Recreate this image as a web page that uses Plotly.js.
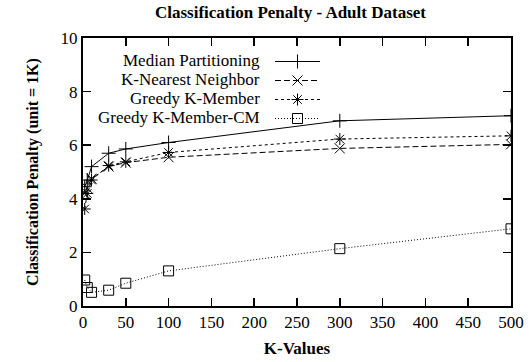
<!DOCTYPE html>
<html>
<head>
<meta charset="utf-8">
<script src="https://cdn.plot.ly/plotly-3.0.1.min.js"></script>
<style>html,body{margin:0;padding:0;background:#fff;}#chart{width:531px;height:362px;}</style>
</head>
<body>
<div id="chart"></div>
<script>
const kValues = [2, 5, 10, 30, 50, 100, 300, 500];
const seriesNames = ["Median Partitioning", "K-Nearest Neighbor", "Greedy K-Member", "Greedy K-Member-CM"];
const medianPartitioning = [4.45, 4.7, 5.2, 5.7, 5.86, 6.1, 6.91, 7.1];
const kNearestNeighbor = [4.2, 4.4, 4.75, 5.2, 5.35, 5.55, 5.88, 6.03];
const greedyKMember = [3.62, 4.2, 4.7, 5.24, 5.38, 5.73, 6.23, 6.35];
const greedyKMemberCM = [0.97, 0.69, 0.51, 0.59, 0.85, 1.31, 2.14, 2.88];
const xTicks = [0, 50, 100, 150, 200, 250, 300, 350, 400, 450, 500];
const yTicks = [0, 2, 4, 6, 8, 10];

const serif = "Liberation Serif";
const styles = [
  {dash: "solid", symbol: "cross-thin-open"},
  {dash: "6px,3px", symbol: "x-thin-open"},
  {dash: "3px,3px", symbol: "asterisk-open"},
  {dash: "1px,2px", symbol: "square-open"}
];
const allY = [medianPartitioning, kNearestNeighbor, greedyKMember, greedyKMemberCM];

const traces = allY.map((ys, i) => ({
  x: kValues,
  y: ys,
  type: "scatter",
  mode: "lines+markers",
  name: "",
  hovertext: seriesNames[i],
  line: {color: "#000", width: 1, dash: styles[i].dash},
  marker: {symbol: styles[i].symbol, size: 10, color: "#000", line: {color: "#000", width: 1}}
}));

const H = 362, T = 38, B = 56, plotH = H - T - B;
const legendTop = 47, rowH = 19;
const annotations = seriesNames.map((n, i) => ({
  text: n,
  xref: "paper", yref: "paper",
  x: (262 - 83) / 428, y: (H - B - (legendTop + 13 + rowH * i)) / plotH,
  xanchor: "right", yanchor: "middle",
  showarrow: false,
  font: {family: serif, size: 17, color: "#000"}
}));

const layout = {
  width: 531, height: 362,
  margin: {l: 83, r: 20, t: 38, b: 56},
  paper_bgcolor: "#fff", plot_bgcolor: "#fff",
  font: {family: serif, color: "#000"},
  title: {text: "<b>Classification Penalty - Adult Dataset</b>", font: {family: serif, size: 17, color: "#000"}, x: 0.547, xanchor: "center", y: 0.967, yanchor: "middle", yref: "container"},
  showlegend: true,
  legend: {x: (270 - 83) / 428, y: (H - B - legendTop) / plotH, xanchor: "left", yanchor: "top", bgcolor: "rgba(0,0,0,0)", borderwidth: 0, font: {family: serif, size: 12, color: "#000"}, itemwidth: 45, tracegroupgap: 0},
  xaxis: {
    range: [0, 500], tickvals: xTicks, ticktext: xTicks.map(String),
    ticks: "inside", ticklen: 8, tickwidth: 1.5, tickcolor: "#000",
    showline: true, linecolor: "#000", linewidth: 2, mirror: "allticks",
    showgrid: false, zeroline: false,
    tickfont: {family: serif, size: 17, color: "#000"},
    title: {text: "<b>K-Values</b>", font: {family: serif, size: 17, color: "#000"}, standoff: 11}
  },
  yaxis: {
    range: [0, 10], tickvals: yTicks, ticktext: yTicks.map(String),
    ticks: "inside", ticklen: 8, tickwidth: 1.5, tickcolor: "#000",
    showline: true, linecolor: "#000", linewidth: 2, mirror: "allticks",
    showgrid: false, zeroline: false,
    tickfont: {family: serif, size: 17, color: "#000"},
    title: {text: "<b>Classification Penalty (unit = 1K)</b>", font: {family: serif, size: 16, color: "#000"}, standoff: 18}
  },
  annotations: annotations
};

Plotly.newPlot("chart", traces, layout, {displayModeBar: false, staticPlot: true});
</script>
</body>
</html>
